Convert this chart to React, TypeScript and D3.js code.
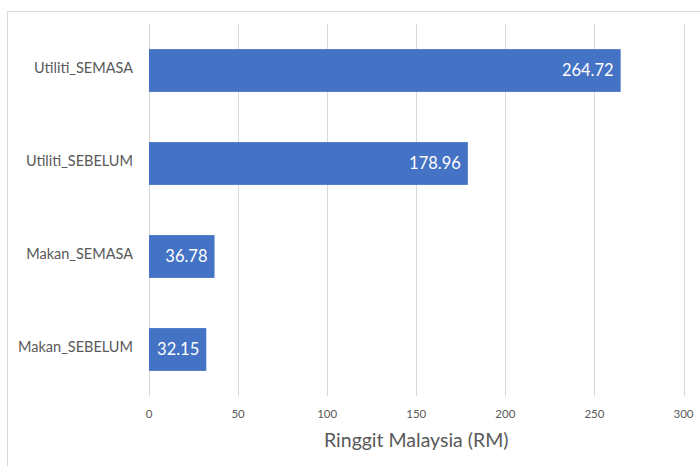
import React from 'react';
import * as d3 from 'd3';

const categories = ['Utiliti_SEMASA', 'Utiliti_SEBELUM', 'Makan_SEMASA', 'Makan_SEBELUM'];
const values = [264.72, 178.96, 36.78, 32.15];
const xTicks = [0, 50, 100, 150, 200, 250, 300];
const axisTitle = 'Ringgit Malaysia (RM)';

const App = () => {
  const width = 700;
  const height = 466;
  const margin = { top: 24, right: 17, bottom: 70, left: 149 };
  const plotW = 683.5 - margin.left;
  const plotH = 396 - margin.top;

  // Scales
  const x = d3.scaleLinear().domain([0, 300]).range([0, plotW]);
  const y = d3.scaleBand<string>()
    .domain(categories)
    .range([0, plotH])
    .paddingInner(0.54)
    .paddingOuter(0.27);

  const font = 'Lato, "Open Sans", sans-serif';

  return (
    <svg
      width={width}
      height={height}
      style={{ position: 'absolute', left: 0, top: 0, background: '#fff' }}
    >
      {/* chart border */}
      <rect x={7.5} y={11.5} width={720} height={480} fill="none" stroke="#d9d9d9" />

      <g transform={`translate(${margin.left},${margin.top})`}>
        {/* gridlines */}
        {xTicks.map(t => (
          <line
            key={t}
            x1={Math.round(x(t)) + 0.5}
            x2={Math.round(x(t)) + 0.5}
            y1={0}
            y2={plotH}
            stroke="#d9d9d9"
          />
        ))}

        {/* tick labels */}
        {xTicks.map(t => (
          <text
            key={'l' + t}
            x={x(t)}
            y={plotH + 22}
            textAnchor="middle"
            fontSize={11.5}
            fill="#595959"
            fontFamily={font}
          >
            {t}
          </text>
        ))}

        {/* bars */}
        {categories.map((c, i) => (
          <g key={c}>
            <rect
              x={x(0)}
              y={y(c)}
              width={x(values[i]) - x(0)}
              height={y.bandwidth()}
              fill="#4472C4"
            />
            <text
              x={x(values[i]) - 7}
              y={(y(c) ?? 0) + y.bandwidth() / 2}
              dy="0.36em"
              textAnchor="end"
              fontSize={16.5}
              fill="#fff"
              fontFamily={font}
            >
              {values[i].toFixed(2)}
            </text>
            <text
              x={-16}
              y={(y(c) ?? 0) + y.bandwidth() / 2}
              dy="0.2em"
              textAnchor="end"
              fontSize={14.5}
              fill="#595959"
              fontFamily={font}
            >
              {c}
            </text>
          </g>
        ))}

        {/* axis title */}
        <text
          x={plotW / 2}
          y={plotH + 51}
          textAnchor="middle"
          fontSize={19.5}
          fill="#595959"
          fontFamily={font}
        >
          {axisTitle}
        </text>
      </g>
    </svg>
  );
};

export default App;
